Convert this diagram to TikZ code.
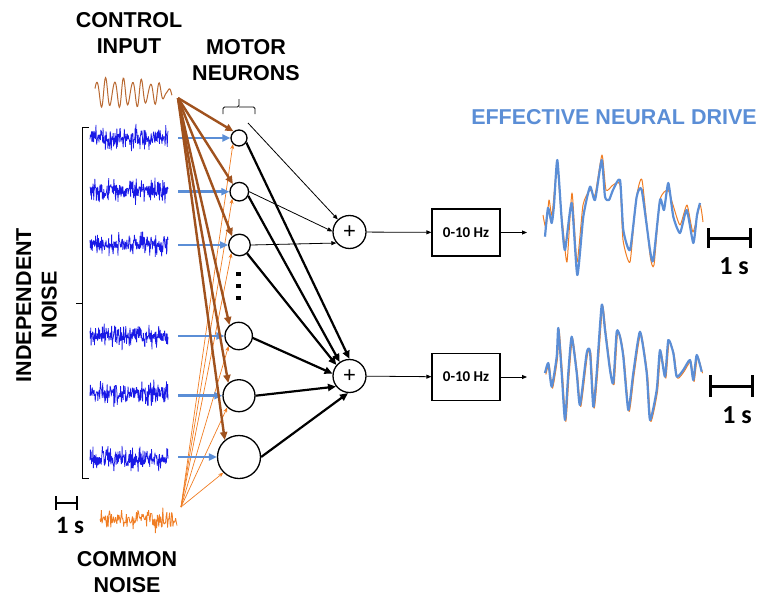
\documentclass[tikz,border=0pt]{standalone}
\usepackage{fontspec}
\setmainfont{Liberation Sans}
\newfontfamily\calib{Carlito}
\usetikzlibrary{arrows.meta}

\definecolor{noiseblue}{RGB}{25,25,230}
\definecolor{driveblue}{RGB}{91,142,214}
\definecolor{ctrlbrown}{RGB}{160,82,30}
\definecolor{tracebrown}{RGB}{185,105,50}
\definecolor{commonorange}{RGB}{240,125,35}

\begin{document}
\begin{tikzpicture}[x=1pt,y=-1pt,
  lbl/.style={font=\fontsize{21.5}{25.5}\selectfont\bfseries, align=center, inner sep=0pt},
  neuron/.style={circle, draw, line width=1.3pt, inner sep=0pt, fill=white},
  summer/.style={circle, draw, line width=1.3pt, minimum size=33pt, inner sep=0pt,
                 font=\fontsize{22}{22}\selectfont},
  filt/.style={draw, line width=1.2pt, minimum width=68pt, minimum height=47pt, inner sep=0pt,
               font=\calib\fontsize{15}{15}\selectfont\bfseries},
  scaletxt/.style={font=\calib\fontsize{26}{26}\selectfont\bfseries, inner sep=0pt},
  dotsq/.style={fill, minimum size=4.5pt, inner sep=0pt},
  ctrl/.style={ctrlbrown, line width=2.4pt, -{Triangle[length=8pt,width=7pt]}},
  ind/.style={driveblue, line width=2.6pt, -{Triangle[length=8pt,width=7pt]}},
  com/.style={commonorange, line width=0.7pt, -{Stealth[length=5pt,width=4pt]}},
  thinarr/.style={line width=0.8pt, -{Triangle[length=5pt,width=4pt]}},
  thickarr/.style={line width=2.2pt, -{Triangle[length=8pt,width=7pt]}},
  bar/.style={line width=3pt}
]
\useasboundingbox (0,0) rectangle (763,597);

% ---- titles
\node[lbl] (tctrl) at (129,33.3) {CONTROL\\INPUT};
\node[lbl] (tmot) at (246,60) {MOTOR\\NEURONS};
\node[lbl, rotate=90] (tind) at (36.5,305) {INDEPENDENT\\NOISE};
\node[lbl] (tcom) at (127,572) {COMMON\\NOISE};
\node[lbl, text=driveblue] (tdrive) at (614,117) {EFFECTIVE NEURAL DRIVE};

% ---- input traces
\pgfmathsetseed{4711}
\draw[tracebrown, line width=1pt] plot[smooth, domain=0:1, samples=140, variable=\t]
  ({95+77*\t}, {93 + (3+10*(1-\t*\t*\t*\t))*sin(360*8.6*\t+200) + 2.5*sin(360*13*\t)});
\foreach \yc in {138,191,244,336,394,459}{
  \draw[noiseblue, line width=0.75pt, line join=bevel]
    plot[domain=90:168, samples=210, variable=\t] (\t, {\yc + 5.3*(rand+rand+rand)});
}
\draw[commonorange, line width=0.8pt, line join=bevel]
  plot[domain=100:177, samples=115, variable=\t] (\t, {519 + 5.2*(rand+rand+rand)});

% ---- braces
\draw[line width=0.8pt] (89,127) -- (82,127) -- (82,303) -- (76,303) (82,303) -- (82,478) -- (89,478);
\draw[line width=0.8pt, rounded corners=1.5pt] (223,114) |- (239,107) -- (239,99);
\draw[line width=0.8pt, rounded corners=1.5pt] (255,114) |- (239,107);

% ---- scale bar of the inputs
\draw[line width=2.8pt] (56,496) -- (56,510) (56,503) -- (77,503) (77,496) -- (77,510);
\node[scaletxt, font=\calib\fontsize{25}{25}\selectfont\bfseries] (s0) at (70,525) {1 s};

% ---- motor neurons
\node[neuron, minimum size=16pt]   (n1) at (239,138) {};
\node[neuron, minimum size=18.6pt] (n2) at (239.3,191.7) {};
\node[neuron, minimum size=21.6pt] (n3) at (239.5,245) {};
\node[neuron, minimum size=27.4pt] (n4) at (238.7,336) {};
\node[neuron, minimum size=32pt]   (n5) at (239,395.7) {};
\node[neuron, minimum size=43pt]   (n6) at (239,457) {};
\node[dotsq] (d1) at (238.5,274) {};
\node[dotsq] (d2) at (238.5,286) {};
\node[dotsq] (d3) at (238.5,298) {};

% ---- summation and filters
\node[summer] (sum1) at (349.5,232) {+};
\node[summer] (sum2) at (349.5,376) {+};
\node[filt] (f1) at (466,232.5) {0-10 Hz};
\node[filt] (f2) at (466,377) {0-10 Hz};

% ---- sources of the inputs
\coordinate (cin) at (178,98);
\coordinate (cn) at (181,507);
\coordinate (b1) at (178,138);
\coordinate (b2) at (178,191.7);
\coordinate (b3) at (178,245);
\coordinate (b4) at (178,336);
\coordinate (b5) at (178,395.7);
\coordinate (b6) at (178,457);
\coordinate (n1out) at (248,123);
\coordinate (o1) at (527,232.5);
\coordinate (o2) at (527,377);

% common noise (thin orange)
\foreach \n in {n1,n2,n3,n4,n5,n6} \draw[com] (cn) -- (\n.225);
% independent noise (blue)
\foreach \i in {1,...,6} \draw[ind] (b\i) -- (n\i.west);
% control input (brown)
\foreach \n in {n1,n2,n3,n4,n5,n6} \draw[ctrl] (cin) -- (\n.130);

% neurons to the sums
\draw[thinarr] (n1out) -- (sum1.133);
\draw[thinarr] (n2.0) -- (sum1.178);
\draw[thinarr] (n3.east) -- (sum1.220);
\draw[thickarr] (n1.-32) -- (sum2.90);
\draw[thickarr] (n2.-25) -- (sum2.125);
\draw[thickarr] (n3.-48) -- (sum2.140);
\draw[thickarr] (n4.-8) -- (sum2.172);
\draw[thickarr] (n5.0) -- (sum2.218);
\draw[thickarr] (n6.0) -- (sum2.265);

\draw[thinarr] (sum1) -- (f1);
\draw[thinarr] (sum2) -- (f2);
\draw[thinarr] (f1) -- (o1);
\draw[thinarr] (f2) -- (o2);

% ---- filtered outputs
\draw[commonorange, line width=1pt, line join=round] plot[smooth, tension=0.35] coordinates {
 (543,215) (546,228) (549,200) (552,215) (557,165) (560,200) (563,228) (567,262) (572,193)
 (577,262) (583,205) (590,190) (595,195) (602,155) (606,190) (613,185) (620,185) (623,240)
 (630,262) (636,200) (642,180) (650,255) (654,265) (660,200) (668,190) (673,205) (680,225)
 (687,205) (693,232) (700,205) (703,222)};
\draw[driveblue, line width=2.2pt, line join=round] plot[smooth, tension=0.35] coordinates {
 (545,236.7) (548,208) (551.7,223) (554,205) (557.3,160) (561.7,220) (565,250) (571.7,203)
 (577.3,275) (583.3,216.7) (590,186.7) (595,200) (601.7,160) (605,196.7) (609,200) (613,190)
 (620,180) (623.3,230) (630,250) (636.7,196.7) (641.7,190) (650,250) (653.3,260) (660,200)
 (664,210) (668.3,183) (673.3,216.7) (680,233) (686.7,210) (693.3,243) (697,215) (700,203)};

\begin{scope}[shift={(0.8,1.5)}]
\draw[commonorange, line width=1pt, line join=round] plot[smooth, tension=0.35] coordinates {
 (545,373) (548.3,363) (551.7,386.7) (556.7,356.7) (558.3,328) (561.7,373) (565,420)
 (568.3,373) (571.7,336.7) (576.7,373) (580,405) (586.7,353) (590,351.7) (593.3,406.7)
 (596.7,373) (601.7,305) (605,330) (610,370) (613.3,383) (616.7,331.7) (620,336.7)
 (623.3,356.7) (628.3,410) (633.3,373) (640,331.7) (646.7,373) (650,420) (656.7,390)
 (660,350) (665,376.7) (668.3,340) (673.3,353) (676.7,376.7) (683.3,370) (690,360)
 (693.3,380) (696.7,355) (701.7,371.7)};
\end{scope}
\draw[driveblue, line width=2.2pt, line join=round] plot[smooth, tension=0.35] coordinates {
 (545,373) (548.3,363) (551.7,386.7) (556.7,356.7) (558.3,328) (561.7,373) (565,420)
 (568.3,373) (571.7,336.7) (576.7,373) (580,405) (586.7,353) (590,351.7) (593.3,406.7)
 (596.7,373) (601.7,305) (605,330) (610,370) (613.3,383) (616.7,331.7) (620,336.7)
 (623.3,356.7) (628.3,410) (633.3,373) (640,331.7) (646.7,373) (650,420) (656.7,390)
 (660,350) (665,376.7) (668.3,340) (673.3,353) (676.7,376.7) (683.3,370) (690,360)
 (693.3,380) (696.7,355) (701.7,371.7)};

% ---- scale bars of the outputs
\draw[bar] (708,228) -- (708,248) (708,238) -- (750,238) (750,228) -- (750,248);
\node[scaletxt] (s1) at (734,266.5) {1 s};
\draw[bar] (710,375) -- (710,397) (710,386) -- (752,386) (752,375) -- (752,397);
\node[scaletxt] (s2) at (737,415) {1 s};
\end{tikzpicture}
\end{document}
